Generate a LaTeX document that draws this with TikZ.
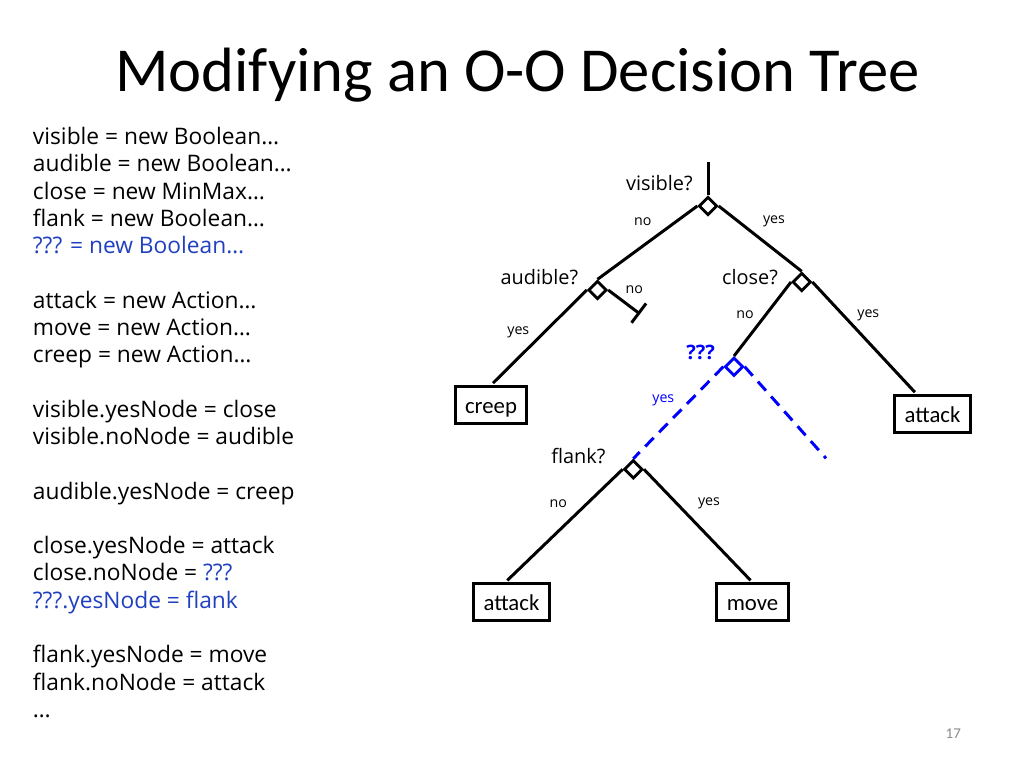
\documentclass[tikz,border=0pt]{standalone}
\usepackage{fontspec}
\setmainfont{Open Sans}
\newfontfamily\titlefont{Carlito}
\usetikzlibrary{shapes.geometric,arrows.meta,calc}
\definecolor{codeblue}{RGB}{32,64,192}
\definecolor{treeblue}{RGB}{0,0,255}
\definecolor{pagegray}{RGB}{137,137,137}
\begin{document}
\begin{tikzpicture}[x=0.703125pt,y=-0.703125pt,
  code/.style={anchor=base west,inner sep=0pt,font=\fontsize{16}{19.2}\selectfont},
  branch/.style={line width=2.1pt},
  dashbranch/.style={line width=2.1pt,draw=treeblue,dash pattern=on 8.5pt off 5.5pt},
  test/.style={diamond,draw,line width=2pt,inner sep=0pt,minimum width=13pt,minimum height=13pt},
  leaf/.style={draw,line width=2pt,font=\titlefont\fontsize{16}{19.2}\selectfont,inner xsep=7pt,inner ysep=0pt,text height=15.6pt,text depth=4pt,minimum height=26pt},
  qlabel/.style={inner sep=0pt,font=\fontsize{14}{16.8}\selectfont},
  blabel/.style={inner sep=0pt,font=\fontsize{10}{12}\selectfont},
  toleaf/.style={branch,shorten >=2pt}]
\fill[white] (0,0) rectangle (1024,768);
\useasboundingbox (0,0) rectangle (1024,768);

% title
\node[anchor=base,inner sep=0pt,font=\titlefont\fontsize{44}{52.8}\selectfont] (title) at (517.5,92) {Modifying an O-O Decision Tree};

% code listing
\node[code] (c0)  at (32.7,144.6) {visible = new Boolean…};
\node[code] (c1)  at (32.7,171.9) {audible = new Boolean…};
\node[code] (c2)  at (32.7,199.1) {close = new MinMax…};
\node[code] (c3)  at (32.7,226.4) {flank = new Boolean…};
\node[code,text=codeblue] (c4)  at (32.7,253.7) {??? = new Boolean…};
\node[code] (c6)  at (32.7,308.2) {attack = new Action…};
\node[code] (c7)  at (32.7,335.5) {move = new Action…};
\node[code] (c8)  at (32.7,362.8) {creep = new Action…};
\node[code] (c10) at (32.7,417.3) {visible.yesNode = close};
\node[code] (c11) at (32.7,444.6) {visible.noNode = audible};
\node[code] (c13) at (32.7,499.1) {audible.yesNode = creep};
\node[code] (c15) at (32.7,553.7) {close.yesNode = attack};
\node[code] (c16) at (32.7,580.9) {close.noNode = \textcolor{codeblue}{???}};
\node[code,text=codeblue] (c17) at (32.7,608.2) {???.yesNode = flank};
\node[code] (c19) at (32.7,662.7) {flank.yesNode = move};
\node[code] (c20) at (32.7,690.0) {flank.noNode = attack};
\node[code] (c21) at (32.7,717.3) {…};

% tree nodes
\coordinate (root) at (708,162);
\node[test] (vis) at (708,206) {};
\node[test] (aud) at (597.5,290) {};
\node[test] (cls) at (801.7,282) {};
\node[test,draw=treeblue] (unk) at (734,366.7) {};
\node[test] (flk) at (633.3,469.3) {};
\node[leaf] (creep) at (491,405) {creep};
\node[leaf] (atkR) at (932.5,414.2) {attack};
\node[leaf] (atkL) at (511.5,602.3) {attack};
\node[leaf] (move) at (752.5,602.3) {move};
\coordinate (audNo) at (640,314);
\coordinate (unkNo) at (826,458.3);

% connectors
\draw[branch] (root) -- (vis.north);
\draw[branch] (vis.west) -- (aud.north);
\draw[branch] (vis.east) -- (cls.north);
\draw[toleaf] (aud.west) -- (creep.north);
\draw[branch,-{Bar[width=17pt]}] (aud.east) -- (audNo);
\draw[branch] (cls.west) -- (unk.north);
\draw[toleaf] (cls.east) -- ($(atkR.north west)!0.3!(atkR.north east)$);
\draw[dashbranch] (unk.west) -- (flk.north);
\draw[dashbranch] (unk.east) -- (unkNo);
\draw[toleaf] (flk.west) -- ($(atkL.north west)!0.42!(atkL.north east)$);
\draw[toleaf] (flk.east) -- (move.north);

% tree labels
\node[qlabel] (lvis) at (659.3,183.3) {visible?};
\node[blabel] (lvisno) at (642.7,221.7) {no};
\node[blabel] (lvisyes) at (774,221.7) {yes};
\node[qlabel] (laud) at (539.3,276.7) {audible?};
\node[blabel] (laudno) at (634.3,290) {no};
\node[blabel] (laudyes) at (518.3,332.7) {yes};
\node[qlabel] (lcls) at (750,276.7) {close?};
\node[blabel] (lclsno) at (745,315) {no};
\node[blabel] (lclsyes) at (868.3,315) {yes};
\node[qlabel,text=treeblue,font=\bfseries\fontsize{14}{16.8}\selectfont] (lunk) at (700.7,352.7) {???};
\node[blabel,text=treeblue] (lunkyes) at (663.3,400.7) {yes};
\node[qlabel] (lflk) at (578.3,456) {flank?};
\node[blabel] (lflkno) at (558.3,504) {no};
\node[blabel] (lflkyes) at (709,503) {yes};

% page number
\node[inner sep=0pt,text=pagegray,font=\titlefont\fontsize{10.5}{12}\selectfont] (page) at (953.3,733.3) {17};
\end{tikzpicture}
\end{document}
